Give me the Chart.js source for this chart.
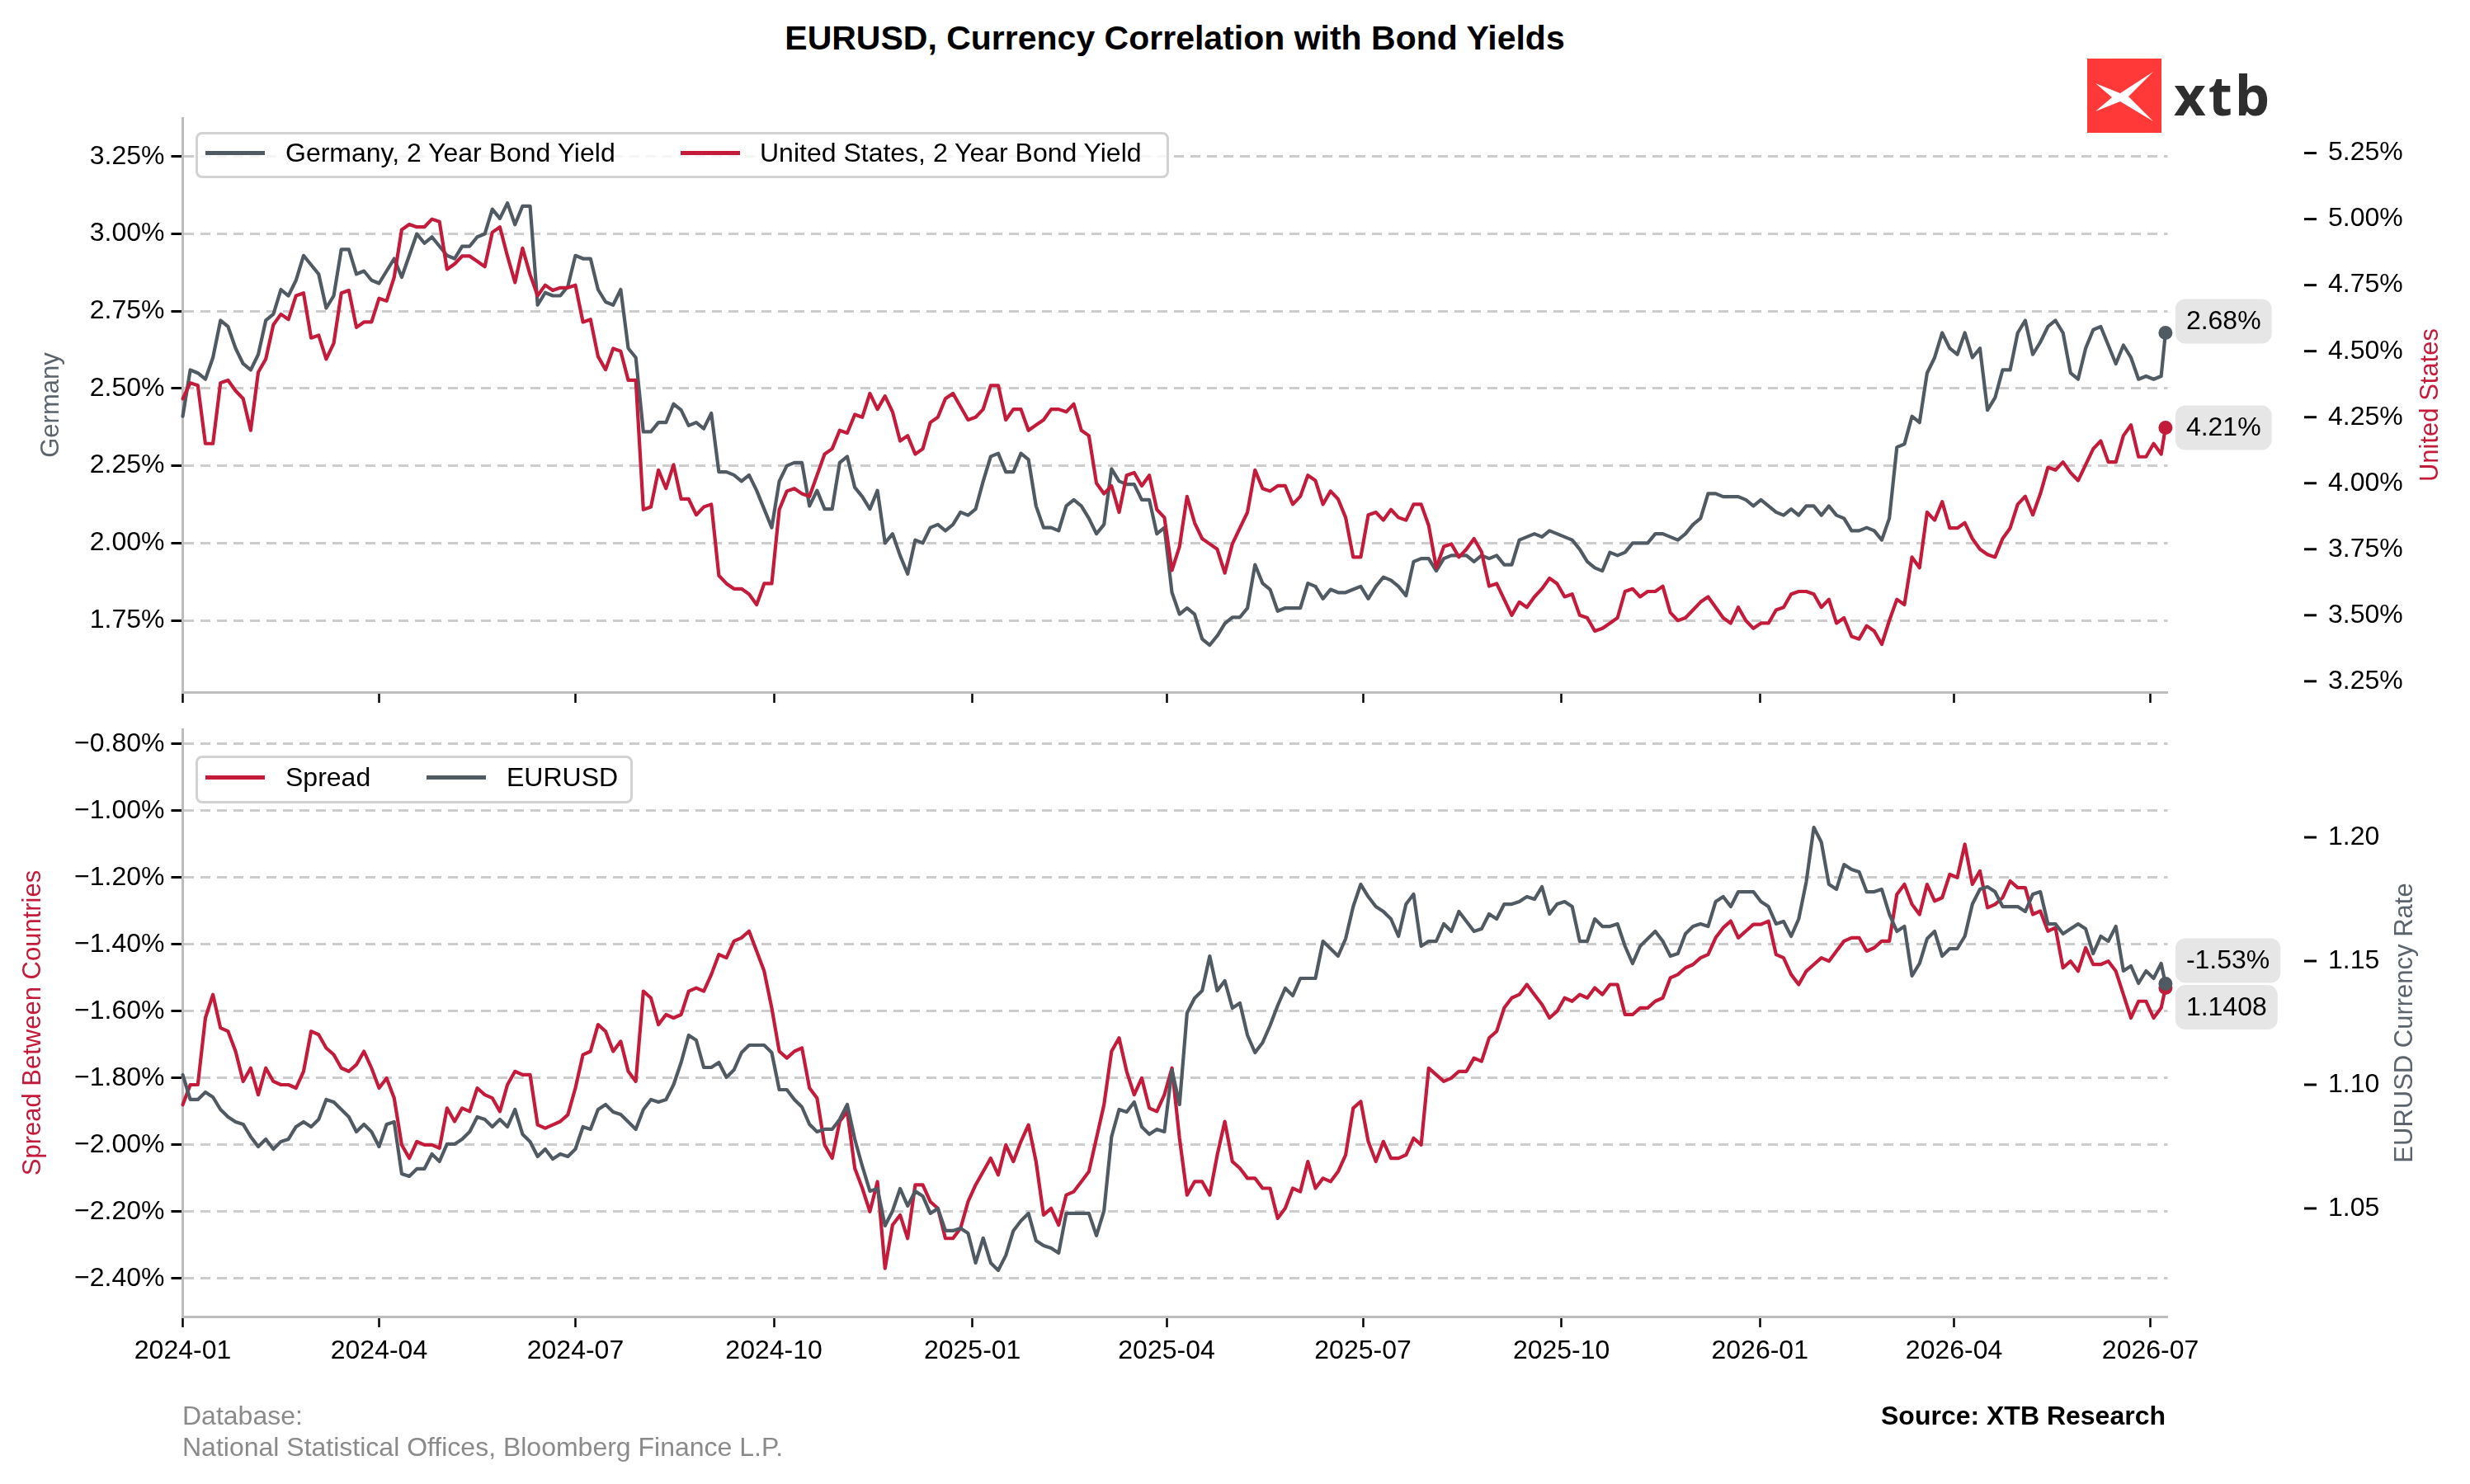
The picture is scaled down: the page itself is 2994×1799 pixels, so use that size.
<!DOCTYPE html>
<html>
<head>
<meta charset="utf-8">
<script src="https://cdn.jsdelivr.net/npm/chart.js@4.4.1/dist/chart.umd.min.js"></script>
<style>
html, body { margin:0; padding:0; background:#fff; }
body { width:2994px; height:1799px; position:relative; overflow:hidden; font-family:"Liberation Sans", Arial, sans-serif; color:#000; }
canvas { position:absolute; left:0; }
#topChart { top:0; }
#bottomChart { top:856px; }
.title { position:absolute; left:0; width:2848px; top:22px; text-align:center; font-weight:bold; font-size:41px; line-height:48px; }
.legend { position:absolute; left:237px; box-sizing:border-box; border:3px solid #d2d2d2; border-radius:8px; background:rgba(255,255,255,0.8); font-size:32px; }
.legend .sw { position:absolute; width:72px; height:5px; }
.legend .tx { position:absolute; line-height:38px; white-space:nowrap; }
.foot { position:absolute; font-size:32px; line-height:38px; white-space:nowrap; }
#logo { position:absolute; left:2530px; top:71px; }
#logo span { position:absolute; left:105px; top:8px; font-family:"Open Sans", sans-serif; font-weight:700; font-size:67px; line-height:70px; color:#2e2e2e; letter-spacing:3px; }
</style>
</head>
<body>
<div class="title">EURUSD, Currency Correlation with Bond Yields</div>

<div id="logo">
  <svg width="90" height="90" viewBox="0 0 90 90">
    <rect width="90" height="90" fill="#ff3838"/>
    <path d="M10 30 L40 42 L80 16 L50 46 L80 76 L40 52 L10 64 L30 47 Z" fill="#fff"/>
  </svg>
  <span>xtb</span>
</div>

<canvas id="topChart" width="2994" height="900"></canvas>
<canvas id="bottomChart" width="2994" height="943"></canvas>

<div class="legend" style="top:160px; width:1180px; height:56px;">
  <div class="sw" style="left:9px; top:19.5px; background:#505a63;"></div>
  <div class="tx" style="left:106px; top:3px;">Germany, 2 Year Bond Yield</div>
  <div class="sw" style="left:585px; top:19.5px; background:#c41b3b;"></div>
  <div class="tx" style="left:681px; top:3px;">United States, 2 Year Bond Yield</div>
</div>

<div class="legend" style="top:916px; width:530px; height:58px;">
  <div class="sw" style="left:9px; top:20.5px; background:#c41b3b;"></div>
  <div class="tx" style="left:106px; top:4px;">Spread</div>
  <div class="sw" style="left:277px; top:20.5px; background:#505a63;"></div>
  <div class="tx" style="left:374px; top:4px;">EURUSD</div>
</div>

<div class="foot" style="left:221px; top:1697px; color:#8a8a8a;">Database:</div>
<div class="foot" style="left:221px; top:1735px; color:#8a8a8a;">National Statistical Offices, Bloomberg Finance L.P.</div>
<div class="foot" style="right:369px; top:1697px; font-weight:bold;">Source: XTB Research</div>

<script>
// days since 2024-01-01, read twice a week, last entry is the latest print
var days = [];
for (var w = 0; w <= 262; w++) days.push(w * 3.5);
days.push(919);

var tickDays = [0, 91, 182, 274, 366, 456, 547, 639, 731, 821, 912];
var tickLabels = ['2024-01', '2024-04', '2024-07', '2024-10', '2025-01', '2025-04',
                  '2025-07', '2025-10', '2026-01', '2026-04', '2026-07'];

var deTicks = [1.75, 2.00, 2.25, 2.50, 2.75, 3.00, 3.25];
var usTicks = [3.25, 3.50, 3.75, 4.00, 4.25, 4.50, 4.75, 5.00, 5.25];
var spreadTicks = [-2.40, -2.20, -2.00, -1.80, -1.60, -1.40, -1.20, -1.00, -0.80];
var eurTicks = [1.05, 1.10, 1.15, 1.20];

var de2y = [
  2.41,2.56, 2.55,2.53, 2.60,2.72, 2.70,2.63, 2.58,2.56, 2.61,2.72, 2.74,2.82, 2.80,2.85, 2.93,2.90, 2.87,2.76, 2.80,2.95, 2.95,2.87,
  2.88,2.85, 2.84,2.88, 2.92,2.86, 2.93,3.00, 2.97,2.99, 2.96,2.93, 2.92,2.96, 2.96,2.99, 3.00,3.08, 3.05,3.10, 3.03,3.09, 3.09,2.77,
  2.81,2.80, 2.80,2.83, 2.93,2.92, 2.92,2.82, 2.78,2.77, 2.82,2.63, 2.60,2.36, 2.36,2.39, 2.39,2.45, 2.43,2.38, 2.39,2.37,
  2.42,2.23, 2.23,2.22, 2.20,2.22, 2.17,2.11, 2.05,2.20, 2.25,2.26, 2.26,2.12, 2.17,2.11, 2.11,2.26, 2.28,2.18, 2.15,2.11, 2.17,2.00,
  2.03,1.96, 1.90,2.01, 2.00,2.05, 2.06,2.04, 2.06,2.10, 2.09,2.11, 2.20,2.28, 2.29,2.23, 2.23,2.29, 2.27,2.12, 2.05,2.05, 2.04,2.12,
  2.14,2.12, 2.08,2.03, 2.06,2.24, 2.20,2.19, 2.19,2.14, 2.14,2.03, 2.05,1.84, 1.77,1.79, 1.77,1.69, 1.67,1.70,
  1.74,1.76, 1.76,1.79, 1.93,1.87, 1.85,1.78, 1.79,1.79, 1.79,1.87, 1.86,1.82, 1.85,1.84, 1.84,1.85, 1.86,1.82, 1.86,1.89, 1.88,1.86,
  1.83,1.94, 1.95,1.95, 1.91,1.95, 1.96,1.96, 1.96,1.94, 1.96,1.95, 1.96,1.93, 1.93,2.01, 2.02,2.03, 2.02,2.04, 2.03,2.02, 2.01,1.98,
  1.94,1.92, 1.91,1.97, 1.96,1.97, 2.00,2.00, 2.00,2.03, 2.03,2.02, 2.01,2.03, 2.06,2.08, 2.16,2.16, 2.15,2.15,
  2.15,2.14, 2.12,2.14, 2.12,2.10, 2.09,2.11, 2.09,2.12, 2.12,2.09, 2.12,2.09, 2.08,2.04, 2.04,2.05, 2.04,2.01, 2.08,2.31, 2.32,2.41,
  2.39,2.55, 2.60,2.68, 2.63,2.61, 2.68,2.60, 2.63,2.43, 2.47,2.56, 2.56,2.68, 2.72,2.61, 2.65,2.70, 2.72,2.68, 2.55,2.53, 2.63,2.69,
  2.70,2.64, 2.58,2.64, 2.60,2.53, 2.54,2.53, 2.54, 2.68];

var us2y = [
  4.32,4.38, 4.37,4.15, 4.15,4.38, 4.39,4.35, 4.32,4.20, 4.42,4.47, 4.60,4.64, 4.62,4.71, 4.72,4.55, 4.56,4.47, 4.53,4.72, 4.73,4.59,
  4.61,4.61, 4.70,4.69, 4.78,4.96, 4.98,4.97, 4.97,5.00, 4.99,4.81, 4.83,4.86, 4.86,4.84, 4.82,4.95, 4.97,4.86, 4.76,4.89, 4.79,4.71,
  4.75,4.73, 4.74,4.74, 4.75,4.61, 4.62,4.48, 4.43,4.51, 4.50,4.39, 4.39,3.90, 3.91,4.05, 3.98,4.07, 3.94,3.94, 3.88,3.91,
  3.92,3.65, 3.62,3.60, 3.60,3.58, 3.54,3.62, 3.62,3.90, 3.97,3.98, 3.96,3.95, 4.03,4.11, 4.13,4.20, 4.19,4.26, 4.25,4.34, 4.28,4.33,
  4.27,4.16, 4.18,4.11, 4.13,4.23, 4.25,4.32, 4.34,4.29, 4.24,4.25, 4.28,4.37, 4.37,4.24, 4.28,4.28, 4.20,4.22, 4.24,4.28, 4.28,4.27,
  4.30,4.20, 4.18,4.00, 3.96,3.99, 3.89,4.03, 4.04,3.99, 4.03,3.90, 3.87,3.67, 3.76,3.95, 3.85,3.79, 3.77,3.75,
  3.66,3.77, 3.83,3.89, 4.05,3.98, 3.97,3.99, 3.99,3.92, 3.95,4.03, 4.01,3.92, 3.97,3.94, 3.87,3.72, 3.72,3.88, 3.89,3.86, 3.90,3.87,
  3.86,3.92, 3.92,3.84, 3.68,3.76, 3.77,3.72, 3.75,3.79, 3.74,3.61, 3.62,3.56, 3.50,3.55, 3.53,3.57, 3.60,3.64, 3.62,3.57, 3.58,3.50,
  3.49,3.44, 3.45,3.47, 3.49,3.59, 3.60,3.57, 3.59,3.59, 3.61,3.51, 3.48,3.49, 3.52,3.55, 3.57,3.53, 3.49,3.47,
  3.53,3.48, 3.45,3.47, 3.47,3.52, 3.53,3.58, 3.59,3.59, 3.58,3.53, 3.56,3.47, 3.49,3.42, 3.41,3.46, 3.44,3.39, 3.48,3.56, 3.54,3.72,
  3.68,3.89, 3.86,3.93, 3.83,3.83, 3.85,3.79, 3.75,3.73, 3.72,3.79, 3.83,3.92, 3.95,3.88, 3.96,4.06, 4.05,4.08, 4.04,4.01, 4.07,4.13,
  4.16,4.08, 4.08,4.18, 4.22,4.10, 4.10,4.15, 4.11, 4.21];

var spread = [
  -1.88,-1.82, -1.82,-1.62, -1.55,-1.65, -1.66,-1.72, -1.81,-1.77, -1.85,-1.77, -1.81,-1.82, -1.82,-1.83, -1.78,-1.66, -1.67,-1.71,
  -1.73,-1.77, -1.78,-1.76, -1.72,-1.77, -1.83,-1.80, -1.86,-2.00, -2.04,-1.99, -2.00,-2.00, -2.01,-1.89, -1.93,-1.89, -1.90,-1.83,
  -1.85,-1.86, -1.90,-1.82, -1.78,-1.79, -1.79,-1.94, -1.95,-1.94, -1.93,-1.91, -1.83,-1.73, -1.72,-1.64, -1.66,-1.72, -1.69,-1.78,
  -1.81,-1.54, -1.56,-1.64, -1.61,-1.62, -1.61,-1.54, -1.53,-1.54,
  -1.49,-1.43, -1.44,-1.39, -1.38,-1.36, -1.42,-1.48, -1.59,-1.72, -1.74,-1.72, -1.71,-1.83, -1.86,-2.00, -2.04,-1.93, -1.90,-2.07,
  -2.13,-2.20, -2.11,-2.37, -2.24,-2.21, -2.28,-2.12, -2.12,-2.17, -2.19,-2.28, -2.28,-2.25, -2.17,-2.12, -2.08,-2.04, -2.09,-2.00,
  -2.05,-1.99, -1.94,-2.05, -2.21,-2.19, -2.24,-2.15, -2.14,-2.11, -2.08,-1.98, -1.88,-1.72, -1.68,-1.78, -1.85,-1.80, -1.89,-1.90,
  -1.85,-1.77, -1.98,-2.15, -2.11,-2.11, -2.15,-2.03,
  -1.93,-2.05, -2.07,-2.10, -2.10,-2.13, -2.13,-2.22, -2.19,-2.13, -2.14,-2.05, -2.13,-2.10, -2.11,-2.08, -2.03,-1.89, -1.87,-1.99,
  -2.05,-1.99, -2.04,-2.04, -2.03,-1.98, -2.00,-1.77, -1.79,-1.81, -1.80,-1.78, -1.78,-1.74, -1.75,-1.68, -1.66,-1.59, -1.56,-1.55,
  -1.52,-1.55, -1.58,-1.62, -1.60,-1.56, -1.57,-1.55, -1.56,-1.53, -1.55,-1.52, -1.52,-1.61, -1.61,-1.59, -1.59,-1.57, -1.56,-1.50,
  -1.49,-1.47, -1.46,-1.44, -1.43,-1.38, -1.35,-1.33,
  -1.38,-1.36, -1.34,-1.34, -1.33,-1.43, -1.44,-1.49, -1.52,-1.48, -1.46,-1.44, -1.45,-1.42, -1.39,-1.38, -1.38,-1.42, -1.41,-1.39,
  -1.39,-1.25, -1.22,-1.28, -1.31,-1.22, -1.27,-1.26, -1.19,-1.20, -1.10,-1.22, -1.18,-1.29, -1.28,-1.26, -1.21,-1.23, -1.23,-1.31,
  -1.30,-1.36, -1.35,-1.47, -1.45,-1.48, -1.41,-1.46, -1.46,-1.45, -1.48,-1.55, -1.62,-1.57, -1.57,-1.62, -1.59, -1.53];

var eurusd = [
  1.104,1.094, 1.094,1.097, 1.095,1.090, 1.087,1.085, 1.084,1.079, 1.075,1.078, 1.074,1.077, 1.078,1.083, 1.085,1.083, 1.086,1.094,
  1.093,1.090, 1.087,1.081, 1.084,1.081, 1.075,1.084, 1.085,1.064, 1.063,1.066, 1.066,1.072, 1.069,1.076, 1.076,1.078, 1.081,1.087,
  1.086,1.083, 1.086,1.083, 1.090,1.080, 1.077,1.071, 1.074,1.070, 1.072,1.071, 1.074,1.083, 1.082,1.090, 1.092,1.089, 1.088,1.085,
  1.082,1.090, 1.094,1.093, 1.094,1.100, 1.109,1.120, 1.118,1.107,
  1.107,1.109, 1.103,1.106, 1.113,1.116, 1.116,1.116, 1.113,1.098, 1.098,1.094, 1.091,1.084, 1.081,1.082, 1.082,1.086, 1.092,1.078,
  1.067,1.057, 1.058,1.043, 1.049,1.058, 1.051,1.057, 1.055,1.048, 1.050,1.041, 1.041,1.042, 1.040,1.028, 1.038,1.028, 1.025,1.031,
  1.041,1.045, 1.048,1.037, 1.035,1.034, 1.032,1.048, 1.048,1.048, 1.048,1.039, 1.049,1.079, 1.090,1.089, 1.093,1.083, 1.080,1.082,
  1.081,1.106, 1.092,1.129, 1.135,1.138, 1.152,1.138,
  1.142,1.131, 1.133,1.120, 1.113,1.117, 1.124,1.132, 1.139,1.136, 1.143,1.143, 1.143,1.158, 1.155,1.152, 1.159,1.172, 1.181,1.176,
  1.172,1.170, 1.167,1.160, 1.173,1.177, 1.156,1.158, 1.158,1.165, 1.162,1.170, 1.166,1.162, 1.163,1.169, 1.167,1.173, 1.173,1.174,
  1.176,1.175, 1.180,1.169, 1.173,1.174, 1.172,1.158, 1.158,1.167, 1.164,1.164, 1.165,1.156, 1.149,1.156, 1.159,1.162, 1.158,1.152,
  1.153,1.161, 1.164,1.165, 1.164,1.174, 1.176,1.172,
  1.178,1.178, 1.178,1.174, 1.172,1.165, 1.166,1.160, 1.167,1.182, 1.204,1.198, 1.181,1.179, 1.189,1.187, 1.186,1.178, 1.178,1.179,
  1.169,1.162, 1.164,1.144, 1.149,1.159, 1.162,1.152, 1.155,1.155, 1.160,1.173, 1.179,1.180, 1.178,1.172, 1.172,1.172, 1.170,1.177,
  1.178,1.165, 1.165,1.161, 1.163,1.165, 1.163,1.153, 1.160,1.158, 1.164,1.146, 1.148,1.141, 1.146,1.143, 1.149, 1.1408];

var GRAY = '#505a63', RED = '#c41b3b', GRID = '#cccccc', SPINE = '#bdbdbd';
var PLOT_LEFT = 221.5, RIGHT_W = 366.5;

Chart.defaults.font.family = '"Liberation Sans", Arial, sans-serif';
Chart.defaults.font.size = 32;
Chart.defaults.color = '#000';
Chart.defaults.animation = false;

function pts(vals) {
  return vals.map(function (v, i) { return { x: days[i], y: v }; });
}
function pct(v) { return v.toFixed(2).replace('-', '\u2212') + '%'; }

function lineSet(label, vals, color, axis, order) {
  return {
    label: label, data: pts(vals), yAxisID: axis, order: order,
    borderColor: color, backgroundColor: color, borderWidth: 4.2,
    borderJoinStyle: 'round', borderCapStyle: 'round',
    pointRadius: function (c) { return c.dataIndex === vals.length - 1 ? 8.5 : 0; },
    pointBorderWidth: 0, pointBackgroundColor: color,
    tension: 0, clip: false
  };
}

function xAxis(showLabels, h) {
  return {
    type: 'linear', min: 0, max: 920,
    afterBuildTicks: function (s) { s.ticks = tickDays.map(function (v) { return { value: v }; }); },
    afterFit: function (s) { s.height = h; },
    ticks: { display: showLabels, padding: 10, maxRotation: 0, autoSkip: false,
             callback: function (v, i) { return tickLabels[i]; } },
    grid: { drawOnChartArea: false, tickLength: 13, tickWidth: 2.5, tickColor: '#000' },
    border: { color: SPINE, width: 3 }
  };
}

function leftAxis(min, max, ticks, fmt, title, color, pad) {
  return {
    position: 'left', min: min, max: max,
    afterBuildTicks: function (s) { s.ticks = ticks.map(function (v) { return { value: v }; }); },
    afterFit: function (s) { s.width = PLOT_LEFT; },
    ticks: { padding: 8, callback: fmt },
    grid: { color: GRID, lineWidth: 3, tickLength: 14, tickWidth: 3, tickColor: '#000' },
    border: { color: SPINE, width: 3, dash: [12, 8] },
    title: { display: true, text: title, color: color, font: { size: 31 }, padding: { top: pad, bottom: 0 } }
  };
}

// labels pushed out with an invisible tick mark; ticks.padding would also pad the plot vertically
function rightAxis(min, max, ticks, fmt) {
  return {
    position: 'right', min: min, max: max,
    afterBuildTicks: function (s) { s.ticks = ticks.map(function (v) { return { value: v }; }); },
    afterFit: function (s) { s.width = RIGHT_W; },
    ticks: { padding: 8, callback: fmt },
    grid: { drawOnChartArea: false, drawTicks: true, tickLength: 186.5, tickColor: 'rgba(0,0,0,0)' },
    border: { display: false }
  };
}

// right axis sits away from the plot: own tick marks, title reading upwards, last value boxes
function sideBits(cfg) {
  return {
    id: 'sideBits',
    afterDraw: function (chart) {
      var ctx = chart.ctx, ys = chart.scales.y1;
      ctx.save();
      ctx.strokeStyle = '#000';
      ctx.lineWidth = 3;
      ys.ticks.forEach(function (t) {
        var y = ys.getPixelForValue(t.value);
        ctx.beginPath();
        ctx.moveTo(ys.left + 165.5, y);
        ctx.lineTo(ys.left + 180.5, y);
        ctx.stroke();
      });
      ctx.translate(ys.left + cfg.titleX, (ys.top + ys.bottom) / 2);
      ctx.rotate(-Math.PI / 2);
      ctx.font = '31px "Liberation Sans", Arial, sans-serif';
      ctx.fillStyle = cfg.titleColor;
      ctx.textAlign = 'center';
      ctx.textBaseline = 'middle';
      ctx.fillText(cfg.title, 0, 0);
      ctx.restore();

      ctx.save();
      ctx.font = '32px "Liberation Sans", Arial, sans-serif';
      ctx.textBaseline = 'middle';
      ctx.textAlign = 'left';
      cfg.boxes.forEach(function (b) {
        var meta = chart.getDatasetMeta(b.ds);
        var p = meta.data[meta.data.length - 1];
        var w = ctx.measureText(b.text).width + 26;
        var x = p.x + 12, y = p.y + b.shift - 27;
        ctx.fillStyle = '#e6e6e6';
        ctx.beginPath();
        ctx.roundRect(x, y, w, 54, 12);
        ctx.fill();
        ctx.fillStyle = '#000';
        ctx.fillText(b.text, x + 13, y + 28);
      });
      ctx.restore();
    }
  };
}

var last = days.length - 1;

new Chart(document.getElementById('topChart'), {
  type: 'line',
  data: {
    datasets: [
      lineSet('United States, 2 Year Bond Yield', us2y, RED, 'y1', 0),
      lineSet('Germany, 2 Year Bond Yield', de2y, GRAY, 'y', 1)
    ]
  },
  options: {
    responsive: false, devicePixelRatio: 1, events: [],
    layout: { padding: { top: 143, left: 0, right: 0, bottom: 0 } },
    plugins: { legend: { display: false }, tooltip: { enabled: false } },
    scales: {
      x: xAxis(false, 61),
      y: leftAxis(1.518, 3.375, deTicks, pct, 'Germany', '#5b646d', 44),
      y1: rightAxis(3.209, 5.383, usTicks, pct)
    }
  },
  plugins: [sideBits({
    title: 'United States', titleColor: RED, titleX: 318.5,
    boxes: [
      { ds: 1, text: de2y[last].toFixed(2) + '%', shift: -14 },
      { ds: 0, text: us2y[last].toFixed(2) + '%', shift: 0 }
    ]
  })]
});

new Chart(document.getElementById('bottomChart'), {
  type: 'line',
  data: {
    datasets: [
      lineSet('EURUSD', eurusd, GRAY, 'y1', 0),
      lineSet('Spread', spread, RED, 'y', 1)
    ]
  },
  options: {
    responsive: false, devicePixelRatio: 1, events: [],
    layout: { padding: { top: 28, left: 0, right: 0, bottom: 0 } },
    plugins: { legend: { display: false }, tooltip: { enabled: false } },
    scales: {
      x: xAxis(true, 203),
      y: leftAxis(-2.514, -0.7556, spreadTicks, pct, 'Spread Between Countries', RED, 22),
      y1: rightAxis(1.0063, 1.2437, eurTicks, function (v) { return v.toFixed(2); })
    }
  },
  plugins: [sideBits({
    title: 'EURUSD Currency Rate', titleColor: '#5b646d', titleX: 287.5,
    boxes: [
      { ds: 1, text: spread[last].toFixed(2) + '%', shift: -33 },
      { ds: 0, text: eurusd[last].toFixed(4), shift: 28.5 }
    ]
  })]
});
</script>
</body>
</html>
